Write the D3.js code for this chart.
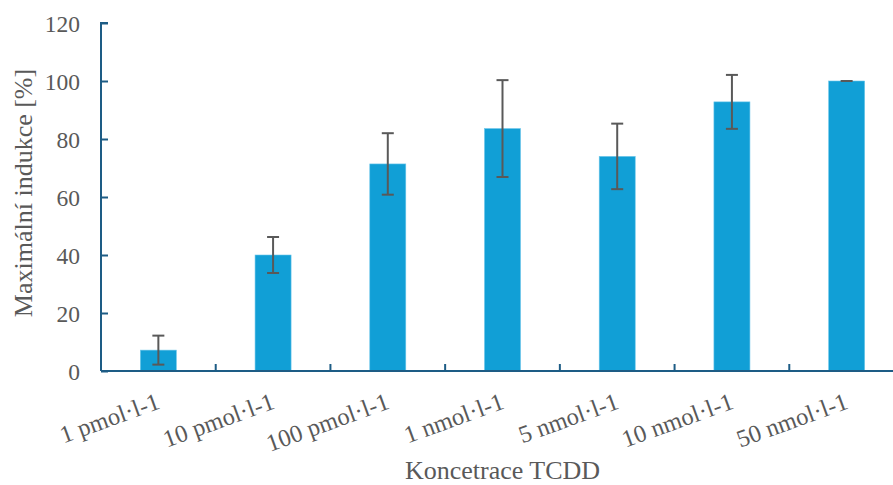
<!DOCTYPE html>
<html>
<head>
<meta charset="utf-8">
<script src="https://cdn.jsdelivr.net/npm/d3@7"></script>
<style>
  html, body { margin: 0; padding: 0; background: #fff; }
  svg { display: block; }
  text { font-family: "Liberation Serif", "Times New Roman", Times, serif; fill: #595959; }
</style>
</head>
<body>
<svg id="chart" width="893" height="485"></svg>
<script>
// Koncentrace TCDD a maximální indukce (průměr ± chyba)
const categories = ["1 pmol·l-1", "10 pmol·l-1", "100 pmol·l-1", "1 nmol·l-1", "5 nmol·l-1", "10 nmol·l-1", "50 nmol·l-1"];
const values = [7.2, 40.0, 71.4, 83.6, 74.0, 92.8, 100.0];
const errors = [5.0, 6.2, 10.6, 16.7, 11.3, 9.3, 0.0];
const yTicks = [0, 20, 40, 60, 80, 100, 120];

const svg = d3.select("#chart");
const margin = { left: 101, top: 23, right: -11, bottom: 114 };
const W = 893, H = 485;
const x0 = margin.left, x1 = W - margin.right;
const y0 = H - margin.bottom, y1 = margin.top;

const x = d3.scaleBand().domain(categories).range([x0, x1]).paddingInner(0.686).paddingOuter(0.343);
const y = d3.scaleLinear().domain([0, 120]).range([y0, y1]);

const axisColor = "#1D5C85";
const barColor = "#119FD6";
const errColor = "#595959";

// bars
svg.append("g").selectAll("rect").data(values).join("rect")
  .attr("x", (d, i) => x(categories[i]))
  .attr("y", d => y(d))
  .attr("width", x.bandwidth())
  .attr("height", d => y(0) - y(d))
  .attr("fill", barColor)
  .attr("stroke", "#6CC6EA")
  .attr("stroke-width", 0.6);

// error bars
const eg = svg.append("g").attr("stroke", errColor).attr("stroke-width", 2).attr("fill", "none");
values.forEach((v, i) => {
  const cx = x(categories[i]) + x.bandwidth() / 2;
  const e = errors[i];
  const capW = 6;
  if (e > 0) {
    eg.append("line").attr("x1", cx).attr("x2", cx).attr("y1", y(v + e)).attr("y2", y(v - e));
    eg.append("line").attr("x1", cx - capW).attr("x2", cx + capW).attr("y1", y(v + e)).attr("y2", y(v + e));
    eg.append("line").attr("x1", cx - capW).attr("x2", cx + capW).attr("y1", y(v - e)).attr("y2", y(v - e));
  } else {
    eg.append("line").attr("x1", cx - capW).attr("x2", cx + capW).attr("y1", y(v)).attr("y2", y(v));
  }
});

// y axis
const yAxis = svg.append("g").attr("transform", `translate(${x0},0)`)
  .call(d3.axisRight(y).tickValues(yTicks).tickSize(7).tickFormat(d3.format("d")));
yAxis.select(".domain").attr("stroke", axisColor).attr("stroke-width", 2).attr("d", `M7,${y1}H0V${y0}`);
yAxis.selectAll(".tick line").attr("stroke", axisColor).attr("stroke-width", 2);
yAxis.selectAll(".tick text")
  .attr("x", -21).attr("dy", "0.34em")
  .attr("text-anchor", "end")
  .style("font-size", "23.5px")
  .style("font-family", "Liberation Serif, Times New Roman, serif")
  .attr("fill", "#595959");

// x axis: tick marks at band boundaries
const xg = svg.append("g");
xg.append("line").attr("x1", x0).attr("x2", x1).attr("y1", y0).attr("y2", y0)
  .attr("stroke", axisColor).attr("stroke-width", 2);
const step = x.step();
d3.range(1, categories.length).forEach(k => {
  xg.append("line")
    .attr("x1", x0 + k * step).attr("x2", x0 + k * step)
    .attr("y1", y0).attr("y2", y0 - 7)
    .attr("stroke", axisColor).attr("stroke-width", 2);
});

// category labels, rotated
svg.append("g").selectAll("text").data(categories).join("text")
  .attr("transform", d => `translate(${x(d) + x.bandwidth() / 2 + 3},${y0 + 37}) rotate(-20)`)
  .attr("text-anchor", "end")
  .style("font-size", "24.5px")
  .text(d => d);

// axis titles
svg.append("text")
  .attr("x", (x0 + x1) / 2).attr("y", 479)
  .attr("text-anchor", "middle")
  .style("font-size", "26px")
  .text("Koncetrace TCDD");

svg.append("text")
  .attr("transform", `translate(32,193) rotate(-90)`)
  .attr("text-anchor", "middle")
  .style("font-size", "26px")
  .text("Maximální indukce [%]");
</script>
</body>
</html>
